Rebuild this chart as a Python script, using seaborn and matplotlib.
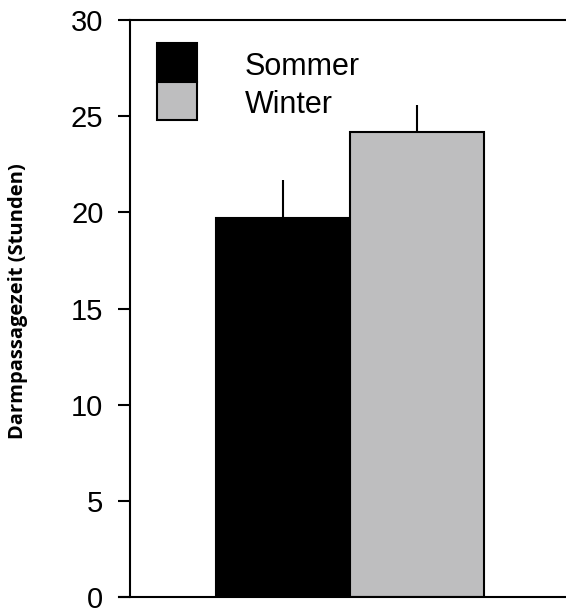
import matplotlib
matplotlib.use("Agg")
import matplotlib.pyplot as plt
import seaborn as sns
import pandas as pd
from matplotlib.patches import Rectangle

seasons = ["Sommer", "Winter"]
means = [19.7, 24.2]
err_up = [2.0, 1.4]
colors = ["#000000", "#bebebf"]
yticks = [0, 5, 10, 15, 20, 25, 30]
ylabel = "Darmpassagezeit (Stunden)"

sns.set_style("white")
plt.rcParams["font.family"] = ["Liberation Sans", "DejaVu Sans"]
plt.rcParams["text.color"] = "black"

W, H = 566, 608
fig = plt.figure(figsize=(W / 100, H / 100), dpi=100)
ax = fig.add_axes([130 / W, 1 - 597 / H, 436 / W, 577 / H])

df = pd.DataFrame({"season": seasons, "mean": means})
sns.barplot(data=df, x="season", y="mean", hue="season", palette=colors,
            width=1.0, errorbar=None, edgecolor="black", linewidth=1.5,
            legend=False, ax=ax, zorder=2)

xs = list(range(len(seasons)))
ax.vlines(xs, means, [m + e for m, e in zip(means, err_up)],
          colors="black", linewidth=1.5, zorder=1)

ax.set_ylim(0, 30)
ax.set_xlim(-1.145, 2.11)
ax.set_yticks(yticks)
ax.set_yticklabels([str(t) for t in yticks], fontsize=21, color="black")
ax.set_xticks([])
ax.set_xlabel("")
ax.set_ylabel("")
ax.tick_params(axis="y", direction="out", length=8.6, width=1.5, pad=10.5,
               left=True, colors="black")
for s in ["left", "top", "bottom"]:
    ax.spines[s].set_visible(True)
    ax.spines[s].set_linewidth(1.5)
    ax.spines[s].set_color("black")
ax.spines["right"].set_visible(False)
ax.spines["bottom"].set_bounds(-1.23, 2.11)
ax.spines["bottom"].set_clip_on(False)

fig.text(18 / W, 1 - 301 / H, ylabel, rotation=90, ha="center", va="center",
         fontsize=14.5, fontweight="bold", color="black",
         family=["Open Sans", "DejaVu Sans"])

# legend (drawn as a key in figure pixels)
key_tops = [43, 82]
key_h = [39, 38]
baselines = [75, 113]
for c, lab, top, hh, bl in zip(colors, seasons, key_tops, key_h, baselines):
    fig.patches.append(Rectangle((157 / W, 1 - (top + hh) / H), 40 / W, hh / H,
                                 transform=fig.transFigure, facecolor=c,
                                 edgecolor="black", linewidth=1.5))
    fig.text(245 / W, 1 - bl / H, lab, ha="left", va="baseline",
             fontsize=22, color="black")

fig.savefig("out.png", dpi=100)
